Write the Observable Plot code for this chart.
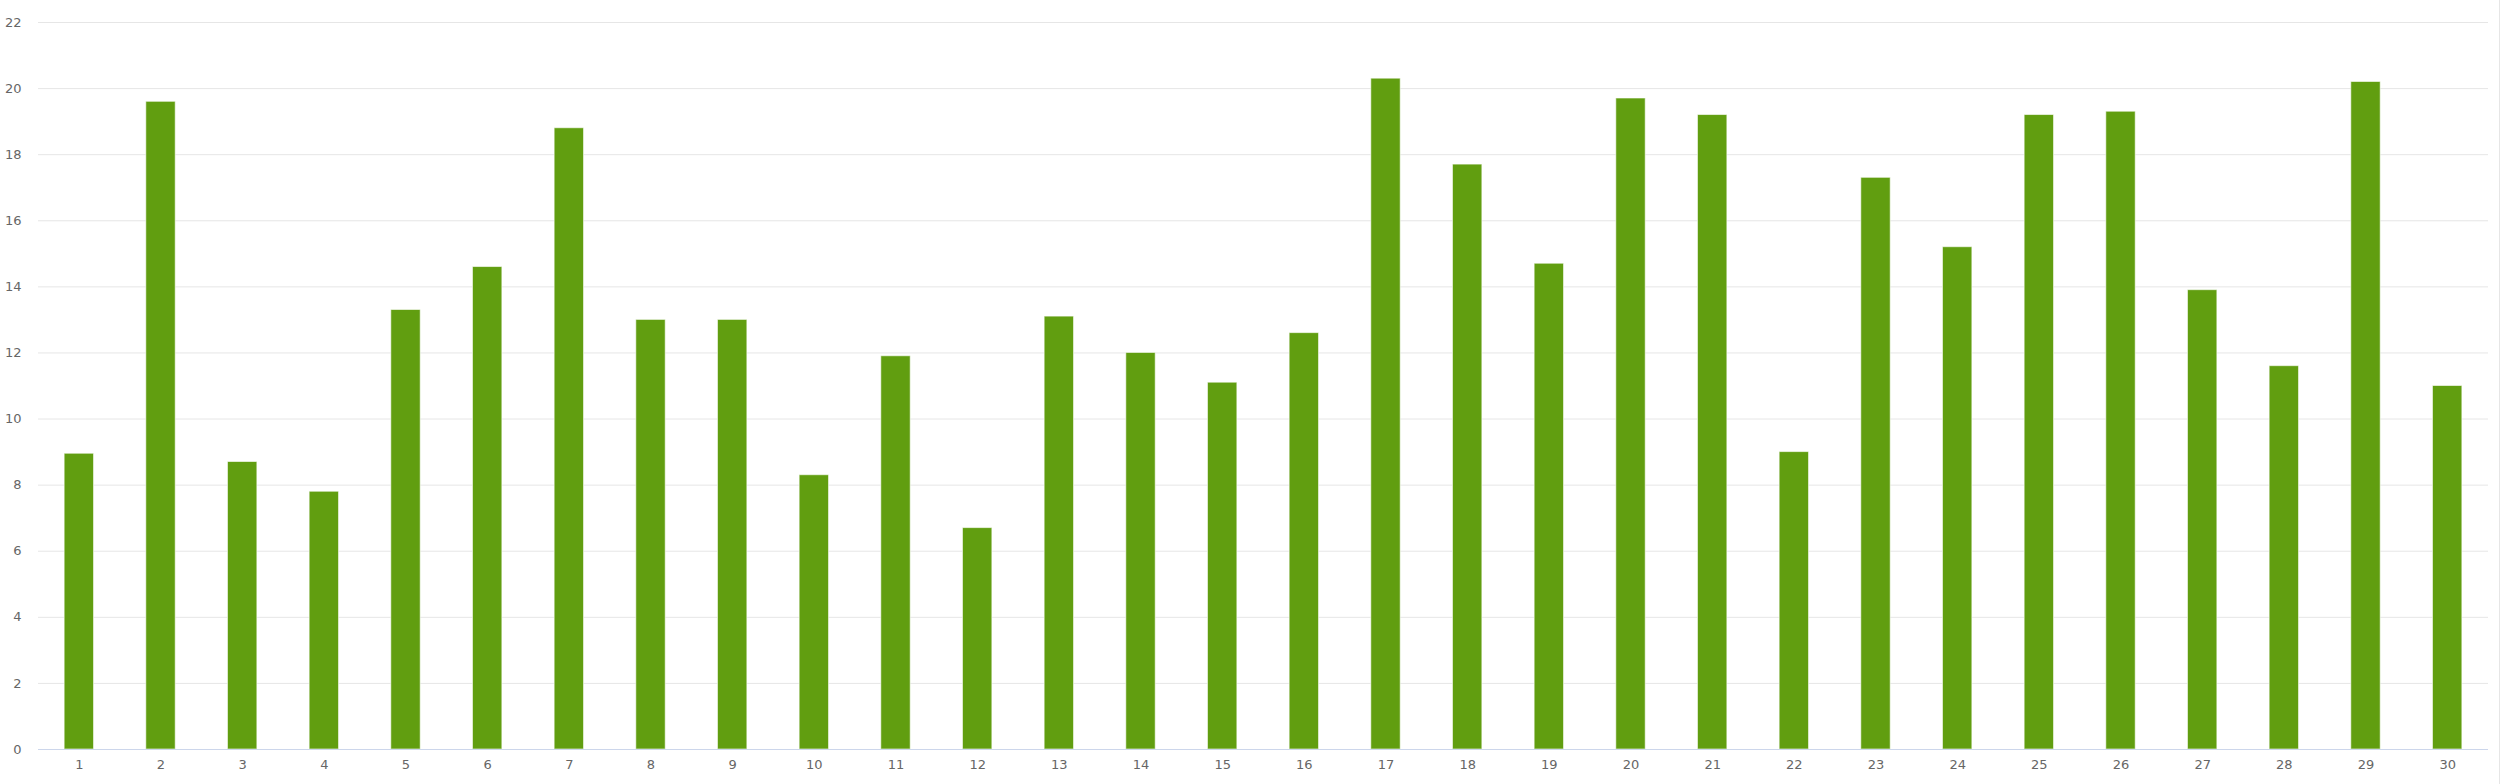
<!DOCTYPE html>
<html>
<head>
<meta charset="utf-8">
<script src="https://cdn.jsdelivr.net/npm/d3@7"></script>
<script src="https://cdn.jsdelivr.net/npm/@observablehq/plot@0.6"></script>
<style>
  html, body { margin: 0; padding: 0; background: #fff; }
  #wrap { position: relative; width: 2500px; height: 784px; overflow: hidden; }
  #edge { position: absolute; right: 0; top: 0; width: 1px; height: 784px; background: #e6e6e6; }
</style>
</head>
<body>
<div id="wrap"><div id="edge"></div></div>
<script>
const categories = ["1","2","3","4","5","6","7","8","9","10","11","12","13","14","15","16","17","18","19","20","21","22","23","24","25","26","27","28","29","30"];
const values = [8.95, 19.6, 8.7, 7.8, 13.3, 14.6, 18.8, 13.0, 13.0, 8.3, 11.9, 6.7, 13.1, 12.0, 11.1, 12.6, 20.3, 17.7, 14.7, 19.7, 19.2, 9.0, 17.3, 15.2, 19.2, 19.3, 13.9, 11.6, 20.2, 11.0];
const yTicks = [0, 2, 4, 6, 8, 10, 12, 14, 16, 18, 20, 22];

const data = categories.map((c, i) => ({category: c, value: values[i]}));

const chart = Plot.plot({
  width: 2500,
  height: 784,
  marginLeft: 38,
  marginRight: 12,
  marginTop: 22,
  marginBottom: 35,
  style: {fontFamily: "DejaVu Sans, sans-serif", fontSize: "13px", color: "#666", background: "#fff"},
  x: {domain: categories, paddingInner: 0.64, paddingOuter: 0.32, round: false, label: null},
  y: {domain: [0, 22], label: null},
  marks: [
    Plot.gridY(yTicks, {stroke: "#e6e6e6", strokeOpacity: 1, strokeWidth: 1}),
    Plot.barY(data, {x: "category", y: "value", fill: "#619e10", stroke: "#ffffff", strokeWidth: 1, strokeOpacity: 0.6}),
    Plot.ruleY([0], {stroke: "#ccd6eb", strokeWidth: 1}),
    Plot.axisY(yTicks, {tickSize: 0, tickPadding: 17, fill: "#666", label: null}),
    Plot.axisX({tickSize: 0, tickPadding: 10, fill: "#666", label: null})
  ]
});
document.getElementById("wrap").prepend(chart);
</script>
</body>
</html>
